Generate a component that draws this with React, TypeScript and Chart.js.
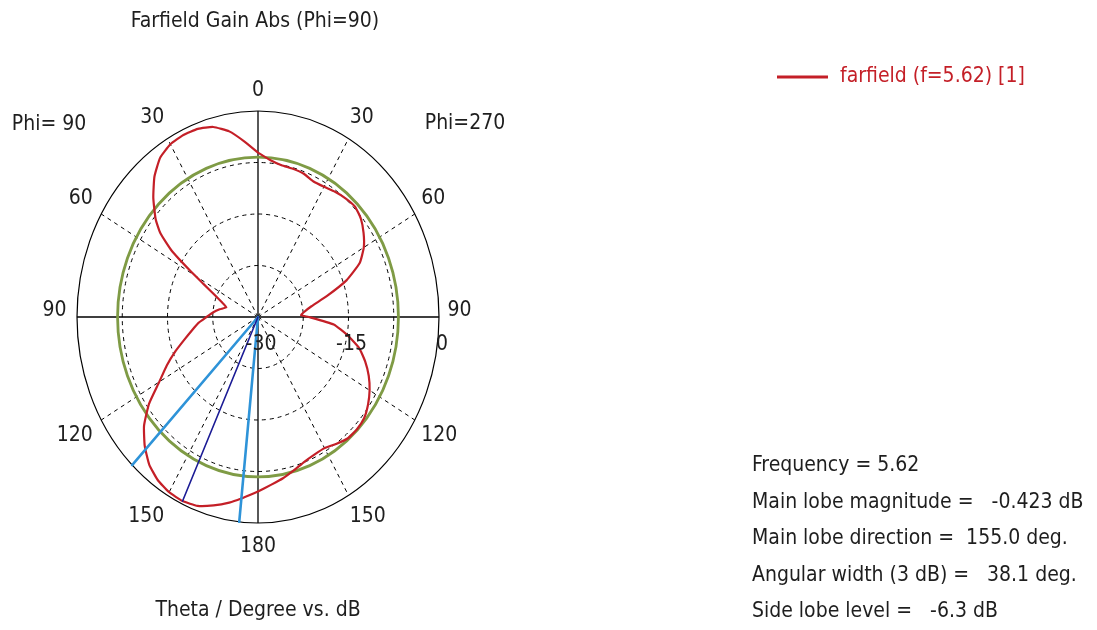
import React, { useEffect, useRef } from 'react';
import { Chart, registerables } from 'chart.js';

Chart.register(...registerables);

// ---------- data ----------
const dbMin = -30;
const dbMax = 0;
const ringLevels = [-22.5, -15, -7.5];
const dbTickValues = [-30, -15, 0];
const dbTickLabels = ['-30', '-15', '0'];
const angleTicks = [0, 30, 60, 90, 120, 150, 180];
const spokeAngles = [30, 60, 120, 150];

// Phi = 90 half (left side of the plot), theta in degrees, gain in dB
const thetaPhi90 = [0, 5, 10, 15, 20, 25, 30, 35, 40, 45, 50, 53, 56, 59, 62, 66, 70, 75, 80, 85, 90, 95, 100, 105, 110, 115, 120, 125, 130, 135, 140, 145, 150, 155, 160, 165, 170, 174, 180];
const gainPhi90 = [-6.06, -4.35, -2.55, -1.35, -0.84, -0.75, -0.96, -1.71, -3.3, -5.46, -7.86, -9.75, -12.75, -16.8, -19.8, -22.2, -23.55, -24.57, -23.55, -22.5, -21.48, -20.1, -18.9, -17.4, -15.45, -13.32, -11.1, -7.95, -5.34, -3.45, -1.95, -1.02, -0.54, -0.42, -0.72, -1.59, -2.55, -3.42, -4.59];

// Phi = 270 half (right side of the plot)
const thetaPhi270 = [0, 5, 10, 15, 20, 25, 30, 35, 40, 45, 50, 55, 60, 65, 70, 75, 80, 85, 88, 90, 95, 100, 105, 110, 115, 120, 125, 130, 135, 140, 145, 150, 155, 160, 165, 170, 175, 180];
const gainPhi270 = [-6.06, -7.05, -7.56, -7.65, -7.8, -8.22, -8.1, -7.74, -7.44, -7.26, -7.74, -8.64, -9.75, -11.4, -14.4, -18.15, -21.0, -22.44, -22.86, -21.6, -17.4, -15.0, -12.66, -11.1, -9.75, -8.64, -7.74, -7.05, -6.84, -6.9, -7.44, -7.95, -7.89, -7.56, -6.9, -6.15, -5.46, -4.59];

const frequency = 5.62;
const mainLobeMagnitude = -0.423;
const mainLobeDirection = 155.0;
const angularWidth = 38.1;
const sideLobeLevel = -6.3;

const seriesLabel = `farfield (f=${frequency}) [1]`;
const titleText = 'Farfield Gain Abs (Phi=90)';
const axisText = 'Theta / Degree vs. dB';
const phiLeftText = 'Phi= 90';
const phiRightText = 'Phi=270';

// ---------- styling ----------
const W = 1097;
const H = 630;
const FONT = '"DejaVu Sans Condensed", "DejaVu Sans", sans-serif';
const RED = '#c41f27';
const GREEN = '#7f9b45';
const LIGHT_BLUE = '#2e93d8';
const DARK_BLUE = '#1b1b95';
const TEXT = '#1e1e1e';

function toXY(side: number, theta: number, db: number) {
  const r = Math.max(db, dbMin) - dbMin;
  const t = (theta * Math.PI) / 180;
  return { x: side * r * Math.sin(t), y: r * Math.cos(t) };
}

const decorPlugin = {
  id: 'polarDecor',
  beforeDatasetsDraw(chart: any) {
    const { ctx } = chart;
    const xs = chart.scales.x;
    const ys = chart.scales.y;
    const cx = xs.getPixelForValue(0);
    const cy = ys.getPixelForValue(0);
    const rx = (db: number) => xs.getPixelForValue(db - dbMin) - cx;
    const ry = (db: number) => cy - ys.getPixelForValue(db - dbMin);
    const px = (p: { x: number; y: number }) => [xs.getPixelForValue(p.x), ys.getPixelForValue(p.y)];

    ctx.save();
    ctx.strokeStyle = '#000';
    ctx.lineWidth = 1;
    ctx.setLineDash([4, 4]);
    ringLevels.forEach((l) => {
      ctx.beginPath();
      ctx.ellipse(cx, cy, rx(l), ry(l), 0, 0, Math.PI * 2);
      ctx.stroke();
    });
    spokeAngles.forEach((a) => {
      [-1, 1].forEach((s) => {
        const [x2, y2] = px(toXY(s, a, dbMax));
        ctx.beginPath();
        ctx.moveTo(cx, cy);
        ctx.lineTo(x2, y2);
        ctx.stroke();
      });
    });
    ctx.setLineDash([]);
    // outer ellipse
    ctx.lineWidth = 1.2;
    ctx.beginPath();
    ctx.ellipse(cx, cy, rx(dbMax), ry(dbMax), 0, 0, Math.PI * 2);
    ctx.stroke();
    // axes
    ctx.lineWidth = 1.3;
    ctx.beginPath();
    ctx.moveTo(cx - rx(dbMax), cy);
    ctx.lineTo(cx + rx(dbMax), cy);
    ctx.moveTo(cx, cy - ry(dbMax));
    ctx.lineTo(cx, cy + ry(dbMax));
    ctx.stroke();
    // side lobe level circle
    const slc = mainLobeMagnitude + sideLobeLevel;
    ctx.strokeStyle = GREEN;
    ctx.lineWidth = 2.8;
    ctx.beginPath();
    ctx.ellipse(cx, cy, rx(slc), ry(slc), 0, 0, Math.PI * 2);
    ctx.stroke();
    ctx.restore();
  },
  afterDraw(chart: any) {
    const { ctx } = chart;
    const xs = chart.scales.x;
    const ys = chart.scales.y;
    const cx = xs.getPixelForValue(0);
    const cy = ys.getPixelForValue(0);
    const Rh = xs.getPixelForValue(dbMax - dbMin) - cx;
    const Rv = cy - ys.getPixelForValue(dbMax - dbMin);

    ctx.save();
    ctx.font = `21px ${FONT}`;
    ctx.fillStyle = TEXT;
    ctx.textBaseline = 'middle';

    // title
    ctx.textAlign = 'center';
    ctx.fillText(titleText, cx - 3, 22);
    ctx.fillText(axisText, cx, 611);

    // phi labels
    ctx.fillText(phiLeftText, 49, 125);
    ctx.fillText(phiRightText, 465, 124);

    // angle labels
    angleTicks.forEach((a) => {
      const t = (a * Math.PI) / 180;
      const c = Math.cos(t);
      const s = Math.sin(t);
      const ly = cy - Rv * 1.1 * c - 6 * Math.sign(c) * s + (a === 180 ? 3 : 0);
      if (a === 0 || a === 180) {
        ctx.textAlign = 'center';
        ctx.fillText(String(a), cx, ly);
      } else {
        const sx = Rh * 1.08 * s;
        ctx.textAlign = 'right';
        ctx.fillText(String(a), cx - sx + 4, ly);
        ctx.textAlign = 'left';
        ctx.fillText(String(a), cx + sx - 6, ly);
      }
    });

    // dB labels
    ctx.textAlign = 'center';
    dbTickValues.forEach((v, i) => {
      ctx.fillText(dbTickLabels[i], xs.getPixelForValue(v - dbMin) + 3, cy + 28);
    });

    // legend
    ctx.strokeStyle = RED;
    ctx.lineWidth = 3;
    ctx.beginPath();
    ctx.moveTo(777, 77);
    ctx.lineTo(828, 77);
    ctx.stroke();
    ctx.fillStyle = RED;
    ctx.textAlign = 'left';
    ctx.fillText(chart.data.datasets[0].label, 840, 77);

    // info block
    const info = [
      `Frequency = ${frequency}`,
      `Main lobe magnitude =   ${mainLobeMagnitude} dB`,
      `Main lobe direction =  ${mainLobeDirection.toFixed(1)} deg.`,
      `Angular width (3 dB) =   ${angularWidth} deg.`,
      `Side lobe level =   ${sideLobeLevel} dB`,
    ];
    ctx.fillStyle = TEXT;
    info.forEach((line, i) => ctx.fillText(line, 752, 466 + i * 36.5));
    ctx.restore();
  },
};

export default function App() {
  const ref = useRef<HTMLCanvasElement | null>(null);

  useEffect(() => {
    if (!ref.current) return;
    const curve = [
      ...thetaPhi90.map((t, i) => toXY(-1, t, gainPhi90[i])).reverse(),
      ...thetaPhi270.map((t, i) => toXY(1, t, gainPhi270[i])),
    ];
    const center = { x: 0, y: 0 };
    const mainLine = [center, toXY(-1, mainLobeDirection, mainLobeMagnitude)];
    const beamLines = [
      toXY(-1, mainLobeDirection - angularWidth / 2, dbMax),
      center,
      toXY(-1, mainLobeDirection + angularWidth / 2, dbMax),
    ];

    const chart = new Chart(ref.current, {
      type: 'scatter',
      data: {
        datasets: [
          {
            label: seriesLabel,
            data: curve,
            showLine: true,
            borderColor: RED,
            borderWidth: 2.2,
            pointRadius: 0,
            tension: 0.15,
            fill: false,
            order: 3,
          },
          {
            label: 'beamwidth',
            data: beamLines,
            showLine: true,
            borderColor: LIGHT_BLUE,
            borderWidth: 2.6,
            pointRadius: 0,
            tension: 0,
            order: 2,
          },
          {
            label: 'main lobe',
            data: mainLine,
            showLine: true,
            borderColor: DARK_BLUE,
            borderWidth: 1.6,
            pointRadius: 0,
            tension: 0,
            order: 1,
          },
        ],
      },
      options: {
        animation: false,
        responsive: false,
        maintainAspectRatio: false,
        layout: { padding: { left: 77, right: W - 439, top: 111, bottom: H - 523 } },
        scales: {
          x: { type: 'linear', min: -(dbMax - dbMin), max: dbMax - dbMin, display: false },
          y: { type: 'linear', min: -(dbMax - dbMin), max: dbMax - dbMin, display: false },
        },
        plugins: {
          legend: { display: false },
          tooltip: { enabled: false },
          title: { display: false },
        },
        elements: { line: { borderCapStyle: 'round', borderJoinStyle: 'round' } },
      },
      plugins: [decorPlugin],
    });
    return () => chart.destroy();
  }, []);

  return (
    <div style={{ position: 'fixed', left: 0, top: 0, width: W, height: H, background: '#fff' }}>
      <canvas ref={ref} width={W} height={H} style={{ display: 'block', width: W, height: H }} />
    </div>
  );
}
